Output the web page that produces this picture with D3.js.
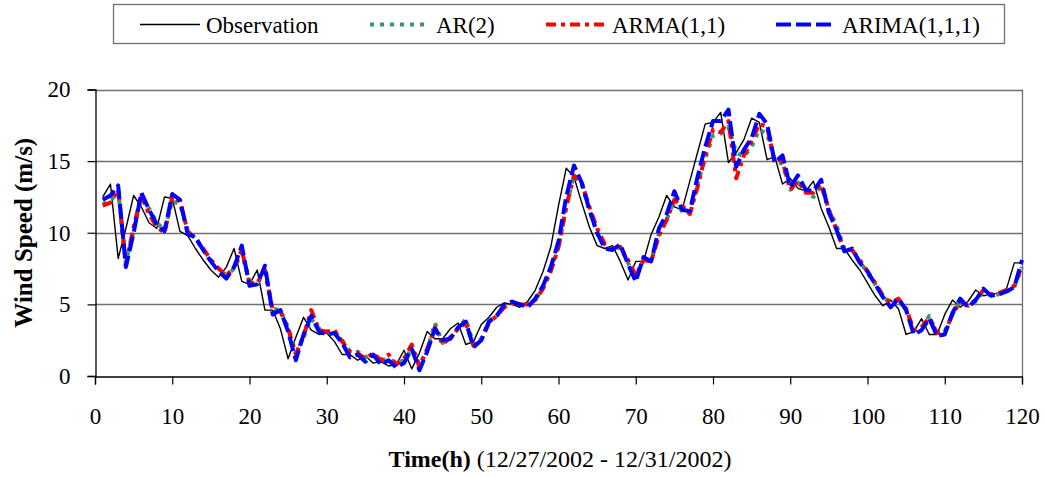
<!DOCTYPE html>
<html>
<head>
<meta charset="utf-8">
<script src="https://cdn.jsdelivr.net/npm/d3@7/dist/d3.min.js"></script>
<style>
body { margin: 0; background: #fff; }
#vis1 text { font-family: "Liberation Serif", "Times New Roman", serif; fill: #000; }
</style>
</head>
<body>
<svg id="vis1" width="1045" height="477"></svg>
<script>
// hours 1..120
var hours = d3.range(1, 121);

var observation = [
    12.5, 13.4, 8.2, 10.3, 12.6, 11.8, 10.7, 10.3, 12.5, 12.4,
    10.1, 9.8, 8.9, 8.1, 7.4, 6.9, 7.6, 8.9, 6.6, 6.4,
    7.4, 4.6, 4.6, 3.3, 1.2, 2.7, 4.1, 3.2, 2.9, 3.0,
    2.4, 1.5, 1.5, 1.1, 1.4, 0.9, 1.0, 0.7, 0.8, 1.8,
    0.5, 1.6, 3.1, 2.6, 2.6, 3.3, 3.7, 2.2, 2.4, 3.6,
    4.1, 4.8, 5.1, 5.0, 4.8, 5.2, 6.0, 7.3, 9.0, 11.9,
    14.5, 13.9, 12.1, 10.4, 9.1, 8.9, 9.1, 8.0, 6.7, 8.0,
    8.0, 9.9, 11.1, 12.6, 11.8, 11.6, 13.6, 15.6, 17.6, 17.7,
    18.4, 14.9, 15.6, 16.5, 18.0, 17.7, 15.1, 15.3, 13.4, 13.8,
    13.1, 12.9, 13.6, 11.7, 10.4, 8.9, 8.9, 8.1, 7.4, 6.5,
    5.6, 4.9, 5.3, 4.7, 2.9, 3.1, 4.0, 2.9, 2.9, 4.3,
    5.3, 4.8, 5.2, 6.0, 5.6, 5.7, 5.8, 6.1, 7.9, 7.9
];

var ar2 = [
    12.0, 12.2, 12.9, 7.9, 10.2, 12.4, 11.7, 10.7, 10.2, 12.2,
    12.0, 10.2, 9.6, 8.8, 8.1, 7.5, 7.0, 7.5, 8.6, 6.6,
    6.5, 7.2, 4.7, 4.6, 3.4, 1.6, 2.7, 4.0, 3.3, 3.1,
    3.1, 2.5, 1.7, 1.7, 1.3, 1.5, 1.1, 1.2, 0.9, 1.1,
    1.9, 0.8, 1.8, 3.7, 2.3, 2.6, 3.3, 4.0, 2.2, 2.6,
    3.8, 4.2, 4.9, 5.1, 5.0, 4.9, 5.3, 6.2, 7.5, 9.0,
    11.8, 14.0, 13.4, 11.6, 10.0, 9.0, 8.8, 9.0, 7.9, 6.9,
    8.1, 8.0, 9.9, 10.9, 12.3, 11.5, 11.4, 13.4, 15.2, 16.8,
    16.9, 17.4, 15.6, 15.3, 16.0, 17.2, 16.9, 15.0, 14.8, 13.0,
    13.5, 12.9, 12.5, 13.3, 11.6, 10.5, 8.9, 8.8, 8.0, 7.2,
    6.4, 5.6, 5.0, 5.3, 4.6, 3.2, 3.3, 4.2, 3.0, 3.0,
    4.3, 5.2, 4.9, 5.2, 5.9, 5.6, 5.7, 5.9, 6.2, 7.6
];

var arma11 = [
    11.9, 12.1, 13.0, 7.8, 10.4, 12.6, 11.3, 10.4, 10.0, 12.5,
    12.2, 10.1, 9.6, 8.9, 8.1, 7.5, 7.0, 7.6, 8.8, 6.5,
    6.5, 7.4, 4.6, 4.5, 3.3, 1.5, 2.8, 4.6, 3.2, 3.1,
    3.2, 2.4, 1.7, 1.6, 1.2, 1.6, 1.1, 1.5, 0.8, 1.2,
    2.2, 0.6, 1.9, 3.4, 2.2, 2.7, 3.3, 3.7, 2.1, 2.5,
    3.7, 4.2, 4.8, 5.1, 5.0, 5.0, 5.3, 6.1, 7.3, 9.0,
    11.8, 14.0, 13.5, 11.8, 10.3, 9.2, 8.9, 9.0, 8.1, 7.0,
    8.1, 8.0, 9.8, 10.9, 12.3, 11.9, 11.3, 13.2, 15.4, 17.2,
    17.0, 17.8, 13.8, 15.4, 16.4, 17.6, 17.4, 14.9, 15.0, 13.0,
    13.6, 12.8, 12.8, 13.4, 11.6, 10.2, 8.8, 8.8, 8.1, 7.3,
    6.5, 5.6, 5.1, 5.4, 4.7, 3.2, 3.4, 4.1, 3.0, 3.1,
    4.3, 5.2, 4.9, 5.3, 6.0, 5.7, 5.8, 6.0, 6.3, 7.7
];

var arima111 = [
    12.3, 12.6, 13.3, 7.6, 10.0, 12.8, 11.6, 10.6, 10.1, 12.7,
    12.3, 9.9, 9.7, 8.8, 8.0, 7.3, 6.8, 7.6, 9.1, 6.3,
    6.4, 7.7, 4.3, 4.6, 3.1, 1.1, 2.9, 4.2, 3.1, 2.9,
    3.0, 2.3, 1.3, 1.5, 1.0, 1.5, 0.8, 1.1, 0.6, 0.9,
    1.9, 0.4, 1.7, 3.3, 2.5, 2.6, 3.4, 3.8, 2.0, 2.5,
    3.8, 4.2, 5.0, 5.2, 5.0, 4.8, 5.4, 6.3, 7.6, 9.4,
    12.5, 14.7, 13.5, 11.6, 10.0, 8.9, 8.8, 9.2, 7.8, 6.6,
    8.3, 8.0, 10.3, 11.3, 12.9, 11.6, 11.5, 13.9, 16.0, 17.8,
    17.8, 18.6, 14.6, 15.8, 16.6, 18.3, 17.6, 14.9, 15.4, 13.2,
    14.0, 13.0, 12.9, 13.7, 11.4, 10.2, 8.7, 8.9, 7.9, 7.3,
    6.4, 5.5, 4.8, 5.4, 4.6, 2.9, 3.2, 4.0, 2.8, 2.9,
    4.4, 5.4, 4.8, 5.3, 6.1, 5.6, 5.7, 5.9, 6.2, 8.1
];

var x_ticks = d3.range(0, 121, 10);
var y_ticks = [0, 5, 10, 15, 20];

var series = [
    {name: "Observation", values: observation, color: "#000000", width: 1.4, dash: null},
    {name: "AR(2)", values: ar2, color: "#339966", width: 4, dash: "4,6"},
    {name: "ARMA(1,1)", values: arma11, color: "#ff0000", width: 4, dash: "10,5,4,5"},
    {name: "ARIMA(1,1,1)", values: arima111, color: "#0000ff", width: 4, dash: "15,5"}
];

d3.select(window).on('load', init);

function init() {
    var canvas = d3.select('#vis1');
    var margin = {top: 89.5, right: 23, bottom: 101, left: 95};
    var width = 1045, height = 477;

    var xScale = d3.scaleLinear()
        .domain([0, 120])
        .range([margin.left, width - margin.right]);

    var yScale = d3.scaleLinear()
        .domain([0, 20])
        .range([height - margin.bottom, margin.top]);

    // gridlines
    canvas.append("g")
        .selectAll("line")
        .data(y_ticks.filter(function(d){ return d > 0; }))
        .enter()
        .append("line")
        .attr("x1", xScale(0))
        .attr("x2", xScale(120))
        .attr("y1", function(d){ return Math.round(yScale(d)) + 0.5; })
        .attr("y2", function(d){ return Math.round(yScale(d)) + 0.5; })
        .style("stroke", "#707070")
        .style("stroke-width", 1.3);

    // right border
    canvas.append("line")
        .attr("x1", xScale(120) + 0.5)
        .attr("x2", xScale(120) + 0.5)
        .attr("y1", yScale(20))
        .attr("y2", yScale(0))
        .style("stroke", "#707070")
        .style("stroke-width", 1.3);

    // series
    var line = d3.line()
        .x(function(d, i){ return xScale(hours[i]); })
        .y(function(d){ return yScale(d); });

    series.forEach(function(s) {
        canvas.append("path")
            .datum(s.values)
            .attr("d", line)
            .style("fill", "none")
            .style("stroke", s.color)
            .style("stroke-width", s.width)
            .style("stroke-dasharray", s.dash)
            .style("stroke-linejoin", "round");
    });

    // axes
    var xAxis = d3.axisBottom(xScale)
        .tickValues(x_ticks)
        .tickSize(8)
        .tickPadding(23)
        .tickFormat(d3.format("d"));

    var yAxis = d3.axisLeft(yScale)
        .tickValues(y_ticks)
        .tickSize(8)
        .tickPadding(17)
        .tickFormat(d3.format("d"));

    var gx = canvas.append("g")
        .attr("transform", "translate(0," + (Math.round(yScale(0)) + 0.5) + ")")
        .call(xAxis);

    var gy = canvas.append("g")
        .attr("transform", "translate(" + (margin.left + 0.5) + ",0)")
        .call(yAxis);

    [gx, gy].forEach(function(g) {
        g.selectAll(".domain").style("stroke", "#000").style("stroke-width", 1.3);
        g.selectAll(".tick line").style("stroke", "#000").style("stroke-width", 1.2);
        g.selectAll("text")
            .style("font-family", "Liberation Serif, serif")
            .style("font-size", "23px")
            .style("fill", "#000");
    });

    // y title
    canvas.append("text")
        .attr("transform", "translate(32," + ((margin.top + height - margin.bottom) / 2) + ") rotate(-90)")
        .attr("text-anchor", "middle")
        .style("font-size", "25px")
        .style("font-weight", "bold")
        .text("Wind Speed (m/s)");

    // x title
    var xt = canvas.append("text")
        .attr("x", 560)
        .attr("y", 467)
        .attr("text-anchor", "middle")
        .style("font-size", "24px");
    xt.append("tspan").style("font-weight", "bold").text("Time(h)");
    xt.append("tspan").text(" (12/27/2002 - 12/31/2002)");

    // legend
    var legend = canvas.append("g");
    legend.append("rect")
        .attr("x", 113.5)
        .attr("y", 4.5)
        .attr("width", 891)
        .attr("height", 39)
        .style("fill", "#fff")
        .style("stroke", "#707070")
        .style("stroke-width", 1.3);

    var legend_pos = [140, 370, 546, 776];

    var items = legend.selectAll("g.item")
        .data(series)
        .enter()
        .append("g")
        .attr("class", "item")
        .attr("transform", function(d, i){ return "translate(" + legend_pos[i] + ",24.5)"; });

    items.append("line")
        .attr("x1", 0)
        .attr("x2", 60)
        .attr("y1", 0)
        .attr("y2", 0)
        .style("stroke", function(d){ return d.color; })
        .style("stroke-width", function(d){ return d.width; })
        .style("stroke-dasharray", function(d){ return d.dash; });

    items.append("text")
        .attr("x", 66)
        .attr("y", 8)
        .style("font-size", "23px")
        .text(function(d){ return d.name; });
}
</script>
</body>
</html>
